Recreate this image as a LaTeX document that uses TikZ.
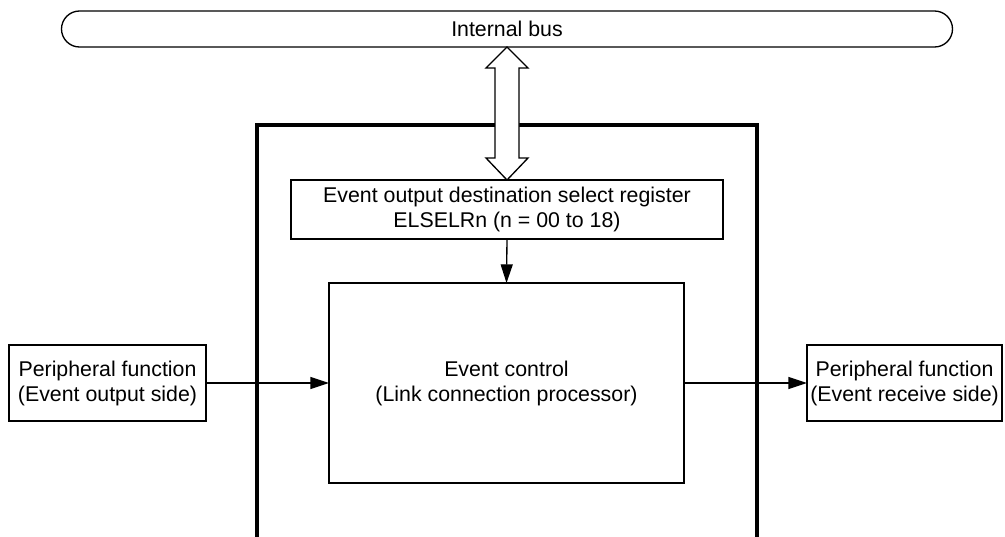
\documentclass[tikz,border=0pt]{standalone}
\usepackage{fontspec}
\setmainfont{Liberation Sans}
\usetikzlibrary{arrows.meta,calc}
\begin{document}
\begin{tikzpicture}[x=0.75pt,y=-0.75pt,
  txt/.style={font=\fontsize{16}{18.75}\selectfont, align=center},
  box/.style={draw, line width=1pt, inner sep=0pt, outer sep=0pt, fill=white, txt},
  arr/.style={line width=1pt, -{Triangle[length=14pt,width=9pt]}},
  frame/.style={line width=2.3pt}
]
\useasboundingbox (0,0) rectangle (1005,536);
% outer block (continues past bottom edge)
\coordinate (fbl) at (257,545);
\coordinate (ftl) at (257,125);
\coordinate (ftr) at (757,125);
\coordinate (fbr) at (757,545);
\draw[frame] (fbl) -- (ftl) -- (ftr) -- (fbr);
% nodes
\node[box, rounded corners=13.5pt, minimum width=668.25pt, minimum height=27pt] (bus) at (507,29) {Internal bus};
\node[box, minimum width=324pt, minimum height=44.25pt] (reg) at (507,209.5) {Event output destination select register\\ELSELRn (n = 00 to 18)};
\node[box, minimum width=266.25pt, minimum height=150pt] (ctrl) at (506.5,383) {Event control\\(Link connection processor)};
\node[box, minimum width=147.75pt, minimum height=57pt] (pl) at (107.5,383) {Peripheral function\\(Event output side)};
\node[box, minimum width=146.25pt, minimum height=57pt] (pr) at (904.5,383) {Peripheral function\\(Event receive side)};
% hollow double arrow between bus and register
\draw[line width=1pt, fill=white, line join=miter]
  (bus.south) -- ($(bus.south)+(21,21)$) -- ($(bus.south)+(12,21)$)
  -- ($(reg.north)+(12,-22)$) -- ($(reg.north)+(21,-22)$) -- (reg.north)
  -- ($(reg.north)+(-21,-22)$) -- ($(reg.north)+(-12,-22)$)
  -- ($(bus.south)+(-12,21)$) -- ($(bus.south)+(-21,21)$) -- cycle;
% connectors
\draw[arr] (reg.south) -- (ctrl.north);
\draw[arr] (pl.east) -- (ctrl.west);
\draw[arr] (ctrl.east) -- (pr.west);
\end{tikzpicture}
\end{document}
